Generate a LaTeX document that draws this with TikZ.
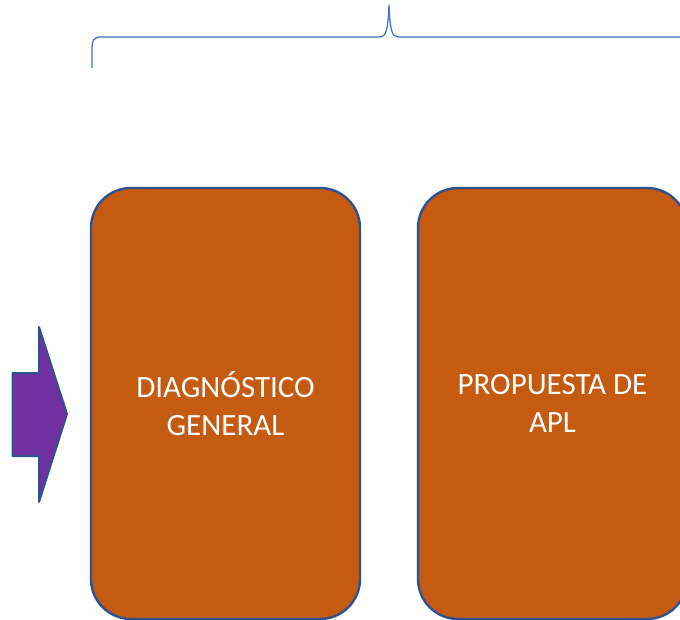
\documentclass[tikz,border=0pt]{standalone}
\usepackage{fontspec}
\setmainfont{Carlito}
\definecolor{boxfill}{HTML}{C55A11}
\definecolor{boxline}{HTML}{2F528F}
\definecolor{arrowfill}{HTML}{7030A0}
\definecolor{bracecol}{HTML}{4472C4}
\tikzset{
  stagebox/.style={draw=boxline, line width=2.4pt, fill=boxfill, rounded corners=40pt,
    minimum width=269pt, minimum height=431pt, inner sep=0pt, text=white, align=center,
    font=\fontsize{31}{38}\selectfont},
  bracestyle/.style={draw=bracecol, line width=1.3pt},
  arrowstyle/.style={draw=boxline, line width=2pt, fill=arrowfill, line join=round}
}
\begin{document}
\begin{tikzpicture}[x=1pt,y=-1pt]
\useasboundingbox (0,0) rectangle (680,620);
\clip (0,0) rectangle (680,620);
\fill[white] (0,0) rectangle (680,620);
% brace
\draw[bracestyle] (92,68) -- (92,50) .. controls (92,40) and (94,37) .. (101,37)
  -- (380,37) .. controls (386,37) and (388,30) .. (389,5)
  .. controls (390,30) and (392,37) .. (398,37) -- (690,37);
% arrow
\draw[arrowstyle] (12.7,373) -- (39,373) -- (39,327) -- (67,414) -- (39,502) -- (39,456) -- (12.7,456) -- cycle;
% boxes
\node[stagebox] (diag) at (225.5,403.5) {DIAGNÓSTICO\\GENERAL};
\node[stagebox] (prop) at (552.5,403.5) {PROPUESTA DE\\APL};
\end{tikzpicture}
\end{document}
